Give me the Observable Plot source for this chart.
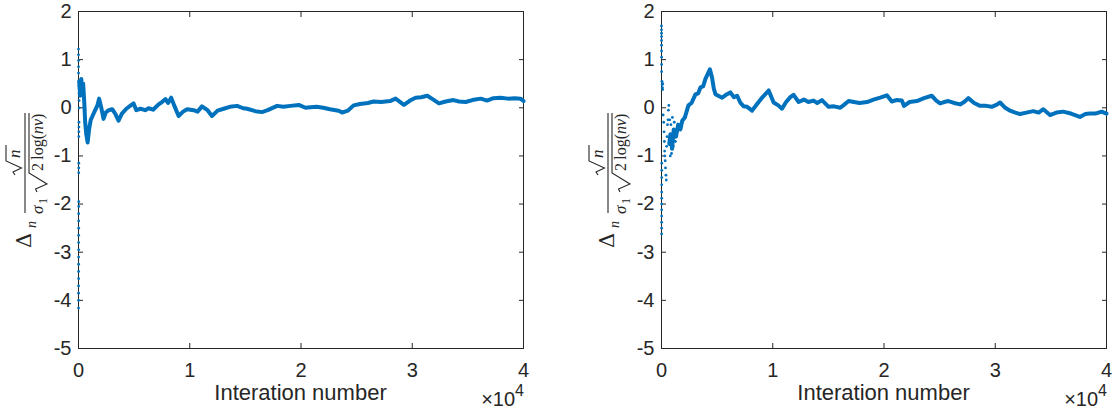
<!DOCTYPE html>
<html>
<head>
<meta charset="utf-8">
<script src="https://cdn.jsdelivr.net/npm/d3@7"></script>
<script src="https://cdn.jsdelivr.net/npm/@observablehq/plot@0.6"></script>
<style>
  body { margin: 0; background: #fff; }
  #fig { display: flex; width: 1117px; height: 413px; }
  #fig svg { overflow: visible; }
</style>
</head>
<body>
<div id="fig"></div>
<script>
// Axis ticks
const xTicks = [0, 10000, 20000, 30000, 40000];
const yTicks = [-5, -4, -3, -2, -1, 0, 1, 2];
const xLabel = "Interation number";

// Run 1: first few iterations (scattered values)
const leftEarlyN = [1, 2, 3, 4, 5, 6, 7, 8, 9, 10, 11, 12, 13, 14, 15, 16, 17, 18, 19, 20, 21, 23, 25, 27, 30, 33, 36, 40, 45, 50, 55, 60];
const leftEarlyV = [1.22, 1.1, 0.98, 0.85, 0.72, -4.16, -4.0, -3.85, -3.7, -3.55, -3.4, -3.25, -3.1, -2.95, -2.8, -2.65, -2.5, -2.35, -2.2, -2.05, -1.95, -1.35, -1.25, -1.15, -0.6, -0.5, -0.4, -0.3, 0.45, 0.3, 0.15, 0.0];

// Run 1: normalised error per iteration
const leftN = [60, 150, 250, 330, 420, 520, 600, 700, 820, 950, 1100, 1300, 1500, 1700, 1850, 2050, 2250, 2450, 2700, 3030, 3300, 3600, 3900, 4300, 4700, 4950, 5200, 5570, 6000, 6300, 6700, 7200, 7500, 7820, 8050, 8330, 8600, 9000, 9400, 9770, 10350, 10700, 11100, 11600, 12000, 12500, 13050, 13600, 14260, 14800, 15150, 15900, 16500, 17000, 17860, 18400, 19060, 19800, 20400, 20860, 21400, 22000, 22600, 23380, 23700, 24200, 24730, 25300, 26000, 26530, 27200, 28000, 28500, 29250, 29800, 30300, 30800, 31350, 31900, 32400, 33000, 33700, 34200, 34800, 35400, 36150, 36730, 37300, 37950, 38600, 39200, 39730, 40000];
const leftV = [0.55, 0.25, 0.6, 0.35, 0.5, 0.1, -0.3, -0.55, -0.72, -0.45, -0.25, -0.15, -0.05, 0.05, 0.19, 0.0, -0.23, -0.1, -0.05, -0.03, -0.12, -0.27, -0.12, -0.02, 0.05, 0.09, -0.05, -0.02, -0.05, -0.01, -0.04, 0.07, 0.12, 0.18, 0.1, 0.21, 0.05, -0.17, -0.08, -0.03, -0.05, -0.08, 0.03, -0.05, -0.17, -0.06, -0.02, 0.02, 0.04, -0.01, -0.02, -0.07, -0.09, -0.05, 0.04, 0.02, 0.04, 0.06, 0.0, 0.01, 0.02, 0.0, -0.03, -0.06, -0.1, -0.06, 0.05, 0.08, 0.1, 0.13, 0.12, 0.14, 0.19, 0.06, 0.15, 0.21, 0.22, 0.25, 0.17, 0.09, 0.13, 0.16, 0.13, 0.12, 0.16, 0.19, 0.15, 0.2, 0.21, 0.19, 0.2, 0.19, 0.14];

// Run 2: first few iterations (scattered values)
const rightEarlyN = [1, 2, 3, 4, 5, 6, 7, 8, 9, 10, 12, 13, 14, 15, 16, 17, 18, 19, 20, 22, 24, 26, 40, 60, 80, 100, 120, 150, 200, 230, 260, 280, 300, 330, 360, 400, 430, 460, 500, 540, 580, 620, 660, 740, 790, 850, 900, 980, 1050, 1150, 1250];
const rightEarlyV = [1.7, 1.62, 1.55, 1.48, 1.4, 1.3, 1.18, 1.05, 0.9, 0.75, -2.62, -2.5, -2.38, -2.25, -2.12, -2.0, -1.88, -1.75, -1.6, -1.45, -1.3, -1.15, 0.55, 0.48, 0.42, 0.38, 0.5, -0.15, -0.3, -0.5, -0.7, -0.9, -1.0, -1.1, -1.25, -1.4, -1.5, -0.8, -0.6, -0.35, -0.25, -0.05, 0.05, -0.25, -1.0, -0.35, -0.95, -0.2, -0.8, -0.3, -0.7];

// Run 2: normalised error per iteration
const rightN = [700, 800, 950, 1100, 1300, 1500, 1700, 1860, 2100, 2420, 2700, 3050, 3300, 3500, 3750, 3950, 4150, 4350, 4550, 4700, 4850, 5100, 5450, 5800, 6190, 6500, 6800, 7100, 7390, 7700, 8140, 8590, 9000, 9400, 9630, 10080, 10500, 10830, 11200, 11580, 11870, 12330, 12800, 13200, 13670, 14000, 14420, 15020, 15500, 16070, 16400, 16820, 17300, 17800, 18470, 19060, 19660, 20260, 20700, 21100, 21600, 21800, 22300, 22950, 23600, 24290, 24700, 25040, 25400, 25790, 26300, 26840, 27200, 27580, 28100, 28630, 29200, 29680, 30100, 30430, 30900, 31330, 31800, 32230, 32800, 33420, 33900, 34320, 34920, 35500, 36110, 36800, 37610, 38100, 38510, 39000, 39560, 40000];
const rightV = [-0.75, -0.55, -0.85, -0.45, -0.6, -0.35, -0.45, -0.27, -0.2, 0.05, 0.1, 0.28, 0.3, 0.42, 0.45, 0.6, 0.7, 0.8, 0.62, 0.4, 0.28, 0.25, 0.21, 0.27, 0.32, 0.22, 0.25, 0.1, 0.03, 0.02, -0.06, 0.08, 0.2, 0.3, 0.36, 0.11, 0.05, -0.02, 0.12, 0.22, 0.27, 0.12, 0.17, 0.12, 0.15, 0.1, 0.16, 0.02, 0.03, 0.0, 0.06, 0.14, 0.12, 0.1, 0.12, 0.17, 0.21, 0.26, 0.13, 0.16, 0.15, 0.04, 0.12, 0.14, 0.2, 0.25, 0.15, 0.09, 0.12, 0.14, 0.1, 0.07, 0.12, 0.2, 0.1, 0.04, 0.04, 0.02, 0.06, 0.11, 0.0, -0.06, -0.1, -0.13, -0.1, -0.07, -0.1, -0.03, -0.15, -0.1, -0.08, -0.12, -0.19, -0.13, -0.12, -0.12, -0.08, -0.12];

const blue = "#0072BD";
const ink = "#262626";
const sans = "'Liberation Sans', Arial, Helvetica, sans-serif";
const serif = "'Liberation Serif', 'Times New Roman', serif";

function pairs(ns, vs) { return ns.map((n, i) => ({n, v: vs[i]})); }

function panel({width, marginLeft, marginRight, earlyN, earlyV, n, v}) {
  const svg = Plot.plot({
    width, height: 413,
    marginLeft, marginRight, marginTop: 11, marginBottom: 65,
    style: {fontFamily: sans, color: ink, background: "#fff", overflow: "visible"},
    x: {domain: [0, 40000]},
    y: {domain: [-5, 2]},
    marks: [
      Plot.frame({stroke: ink, strokeWidth: 1}),
      Plot.axisY(yTicks, {anchor: "left", tickSize: 0, tickPadding: 7, fontSize: 20, tickFormat: d => String(d), label: null}),
      Plot.axisY(yTicks, {anchor: "left", tickSize: -5, fill: "none", label: null}),
      Plot.axisY(yTicks, {anchor: "right", tickSize: -5, fill: "none", label: null}),
      Plot.axisX(xTicks, {anchor: "bottom", tickSize: 0, tickPadding: 14, fontSize: 20, tickFormat: d => String(d / 1e4), label: null}),
      Plot.axisX(xTicks, {anchor: "bottom", tickSize: -5, fill: "none", label: null}),
      Plot.axisX(xTicks, {anchor: "top", tickSize: -5, fill: "none", label: null}),
      Plot.line(pairs(n, v), {x: "n", y: "v", stroke: blue, strokeWidth: 4, strokeLinejoin: "round", strokeLinecap: "round"}),
      Plot.dot(pairs(earlyN, earlyV), {x: "n", y: "v", r: 1.4, fill: blue, stroke: "none"})
    ]
  });

  const s = d3.select(svg);
  const cx0 = marginLeft, cx1 = width - marginRight;

  // x-axis title
  s.append("text")
    .attr("x", (cx0 + cx1) / 2).attr("y", 400)
    .attr("text-anchor", "middle")
    .attr("font-family", sans).attr("font-size", 22).attr("fill", ink)
    .text(xLabel);

  // exponent of the x-axis
  const ex = s.append("text")
    .attr("x", cx1 + 1).attr("y", 406)
    .attr("text-anchor", "end")
    .attr("font-family", sans).attr("font-size", 20).attr("fill", ink);
  ex.append("tspan").text("×10");
  ex.append("tspan").attr("dy", -10).attr("font-size", 16).text("4");

  // y-axis title: Δ_n √n / (σ1 √(2 log(nν))), rotated
  const g = s.append("g")
    .attr("transform", `translate(${marginLeft - 53},181) rotate(-90)`)
    .attr("fill", ink)
    .attr("text-anchor", "start")
    .attr("font-family", serif);
  g.append("text").attr("x", -67).attr("y", 6).attr("font-size", 21)
    .attr("font-family", "'DejaVu Serif', serif").text("Δ");
  g.append("text").attr("x", -47).attr("y", 11).attr("font-size", 14).attr("font-style", "italic").text("n");
  g.append("line").attr("x1", -32).attr("x2", 68).attr("y1", 0).attr("y2", 0)
    .attr("stroke", ink).attr("stroke-width", 1.1);
  // numerator √n
  g.append("path").attr("d", "M6,-10 L9,-12 L13,-3.5 L20,-19 L36,-19")
    .attr("fill", "none").attr("stroke", ink).attr("stroke-width", 1.1);
  g.append("text").attr("x", 23).attr("y", -5).attr("font-size", 17).attr("font-style", "italic").text("n");
  // denominator σ1 √(2 log(nν))
  g.append("text").attr("x", -33).attr("y", 18).attr("font-size", 17).attr("font-style", "italic").text("σ");
  g.append("text").attr("x", -23).attr("y", 22).attr("font-size", 12).text("1");
  g.append("path").attr("d", "M-11,12 L-8,10.5 L-3,22 L8,4 L68,4")
    .attr("fill", "none").attr("stroke", ink).attr("stroke-width", 1.1);
  const den = g.append("text").attr("x", 10).attr("y", 18).attr("font-size", 16);
  den.append("tspan").text("2\u2009log(");
  den.append("tspan").attr("font-style", "italic").text("nν");
  den.append("tspan").text(")");

  return svg;
}

const fig = document.getElementById("fig");
fig.append(panel({width: 558, marginLeft: 78, marginRight: 35, earlyN: leftEarlyN, earlyV: leftEarlyV, n: leftN, v: leftV}));
fig.append(panel({width: 559, marginLeft: 103, marginRight: 11, earlyN: rightEarlyN, earlyV: rightEarlyV, n: rightN, v: rightV}));
</script>
</body>
</html>
